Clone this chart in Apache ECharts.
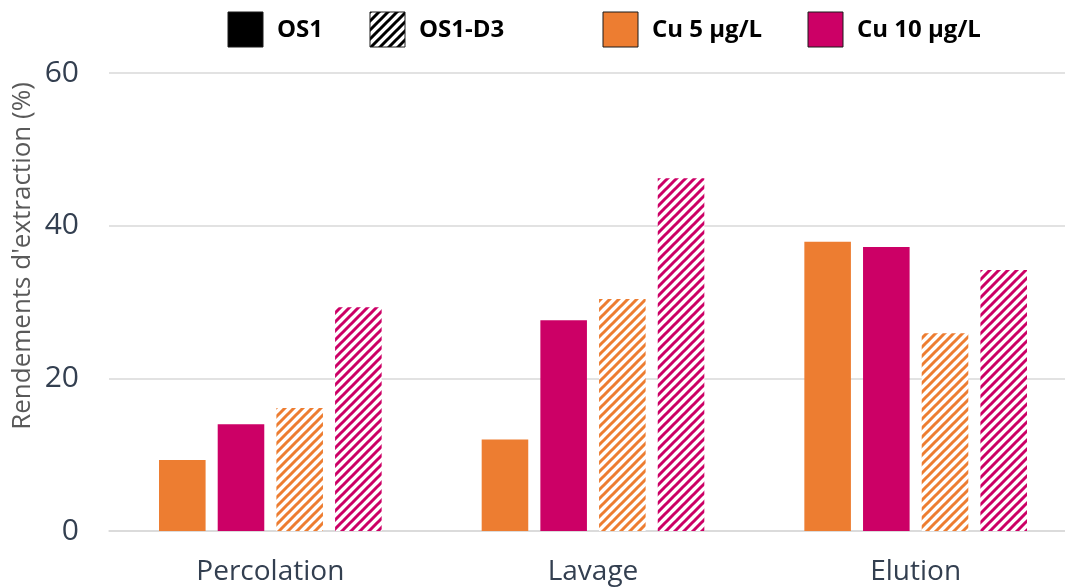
<!DOCTYPE html>
<html>
<head>
<meta charset="utf-8">
<script src="https://cdn.jsdelivr.net/npm/echarts@6/dist/echarts.min.js"></script>
<style>
html,body{margin:0;padding:0;background:#fff;}
#chart{width:1065px;height:587px;}
</style>
</head>
<body>
<div id="chart"></div>
<script>
const categories = ['Percolation', 'Lavage', 'Elution'];
const cu5_OS1 = [9.3, 12.0, 37.9];
const cu10_OS1 = [14.0, 27.6, 37.2];
const cu5_OS1D3 = [16.1, 30.4, 25.9];
const cu10_OS1D3 = [29.3, 46.2, 34.2];
const yTicks = { min: 0, max: 60, interval: 20 };
const legendLabels = ['OS1', 'OS1-D3', 'Cu 5 µg/L', 'Cu 10 µg/L'];
const yTitle = "Rendements d'extraction (%)";

const ORANGE = '#ED7D31';
const MAGENTA = '#CC0066';
const TEXT = '#333F50';
const FONT = '"Open Sans", "Noto Sans", sans-serif';

function hatch(color, bg) {
  const s = 9;
  const c = document.createElement('canvas');
  c.width = s; c.height = s;
  const g = c.getContext('2d');
  g.fillStyle = bg || '#ffffff';
  g.fillRect(0, 0, s, s);
  g.strokeStyle = color;
  g.lineWidth = 3;
  g.lineCap = 'square';
  g.beginPath();
  g.moveTo(-2, s + 2); g.lineTo(s + 2, -2);
  g.moveTo(-2, 2); g.lineTo(2, -2);
  g.moveTo(s - 2, s + 2); g.lineTo(s + 2, s - 2);
  g.stroke();
  return { image: c, repeat: 'repeat' };
}

const chart = echarts.init(document.getElementById('chart'), null, { renderer: 'canvas' });

function barSeries(name, data, color) {
  return {
    name: name,
    type: 'bar',
    data: data,
    barGap: '26%',
    barCategoryGap: '31%',
    itemStyle: { color: color },
    emphasis: { disabled: true },
    silent: true
  };
}

const legendItems = [
  { x: 228, fill: '#000000', label: legendLabels[0] },
  { x: 370, fill: hatch('#000000'), label: legendLabels[1] },
  { x: 603, fill: ORANGE, label: legendLabels[2] },
  { x: 808, fill: MAGENTA, label: legendLabels[3] }
];
const graphics = [];
legendItems.forEach(it => {
  graphics.push({
    type: 'rect', x: it.x, y: 12,
    shape: { width: 35, height: 35 },
    style: { fill: it.fill, stroke: '#1a1a1a', lineWidth: 1 }
  });
  graphics.push({
    type: 'text', x: it.x + 49, y: 30,
    style: { text: it.label, font: 'bold 24px ' + FONT, fill: '#000000', verticalAlign: 'middle' }
  });
});
graphics.push({
  type: 'text',
  x: 23, y: 256,
  rotation: Math.PI / 2,
  style: {
    text: yTitle,
    font: '26px ' + FONT,
    fill: '#595959',
    align: 'center',
    verticalAlign: 'middle'
  }
});

chart.setOption({
  animation: false,
  backgroundColor: '#ffffff',
  grid: { left: 109, width: 968, top: 73, bottom: 56, containLabel: false, outerBoundsMode: 'none' },
  xAxis: {
    type: 'category',
    data: categories,
    axisLine: { show: true, lineStyle: { color: '#D9D9D9', width: 1.5 } },
    axisTick: { show: false },
    axisLabel: { color: TEXT, fontSize: 28, fontFamily: FONT, margin: 27 }
  },
  yAxis: {
    type: 'value',
    min: yTicks.min, max: yTicks.max, interval: yTicks.interval,
    axisLine: { show: false },
    axisTick: { show: false },
    splitLine: { show: true, lineStyle: { color: '#D9D9D9', width: 1.5 } },
    axisLabel: { color: TEXT, fontSize: 30, fontFamily: FONT, margin: 30 }
  },
  graphic: graphics,
  series: [
    barSeries('Cu 5 µg/L OS1', cu5_OS1, ORANGE),
    barSeries('Cu 10 µg/L OS1', cu10_OS1, MAGENTA),
    barSeries('Cu 5 µg/L OS1-D3', cu5_OS1D3, hatch(ORANGE)),
    barSeries('Cu 10 µg/L OS1-D3', cu10_OS1D3, hatch(MAGENTA))
  ]
});
</script>
</body>
</html>
